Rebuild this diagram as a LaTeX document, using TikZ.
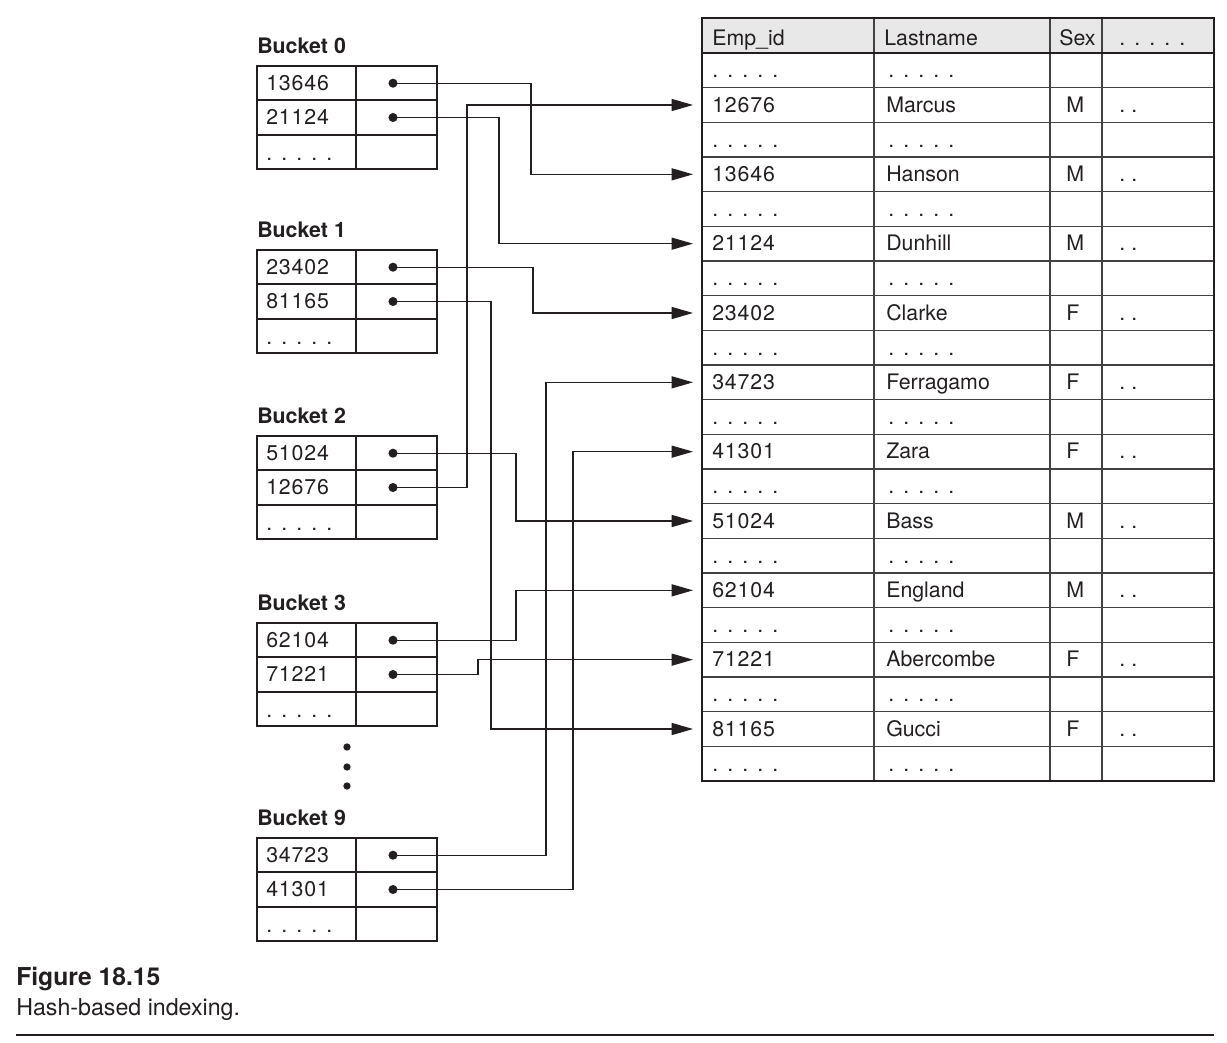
\documentclass[tikz,border=0pt]{standalone}
\usepackage{fontspec}
\setmainfont{TeX Gyre Heros}
\usetikzlibrary{arrows.meta}
\newcommand\fivedots{.\kern6.8pt.\kern6.8pt.\kern6.8pt.\kern6.8pt.}
\newcommand\twodots{.\kern4.6pt.}
\definecolor{ink}{HTML}{231F20}
\tikzset{
  txt/.style={anchor=base west, inner sep=0pt, text=ink, font=\fontsize{16}{19}\selectfont},
  num/.style={txt, font=\fontsize{16}{19}\selectfont\addfontfeature{LetterSpace=4}},
  lbl/.style={anchor=base west, inner sep=0pt, text=ink, font=\fontsize{16}{19}\selectfont\bfseries},
  ptr/.style={circle, fill=ink, inner sep=0pt, minimum size=6.8pt},
  conn/.style={draw=ink, line width=0.9pt, -{Triangle[length=16pt,width=9pt]}},
  box/.style={draw=ink, line width=1.3pt},
  grid/.style={draw=ink!85, line width=1.2pt},
}
\begin{document}
\begin{tikzpicture}[x=0.75pt,y=-0.75pt]
\useasboundingbox (0,0) rectangle (1227,1042);
% ---------- buckets ----------
\foreach \bn/\ty/\ka/\kb in {0/66/13646/21124, 1/250/23402/81165, 2/436/51024/12676, 3/623/62104/71221, 9/838/34723/41301}{
  \node[lbl] (lab\bn) at (257,\ty-13) {Bucket \bn};
  \draw[box] (257,\ty) rectangle (437,\ty+103);
  \draw[box] (356,\ty) -- (356,\ty+103);
  \draw[box] (257,\ty+34.3) -- (437,\ty+34.3);
  \draw[box] (257,\ty+68.7) -- (437,\ty+68.7);
  \node[num] (k\ka) at (266,\ty+24.3) {\ka};
  \node[num] (k\kb) at (266,\ty+58.7) {\kb};
  \node[txt] (kd\bn) at (266,\ty+94) {\fivedots};
  \node[ptr] (p\ka) at (393,\ty+17.2) {};
  \node[ptr] (p\kb) at (393,\ty+51.5) {};
}
\node[ptr, minimum size=5.5pt] (vd1) at (347,747) {};
\node[ptr, minimum size=5.5pt] (vd2) at (347,767) {};
\node[ptr, minimum size=5.5pt] (vd3) at (347,786) {};
% ---------- table ----------
\fill[gray!18] (702,18) rectangle (1214,53);
\foreach \i in {1,...,20}{
  \draw[grid] (702,53+34.667*\i) -- (1214,53+34.667*\i);
}
\draw[grid] (874,18) -- (874,780);
\draw[grid] (1050,18) -- (1050,781);
\draw[grid] (1102,18) -- (1102,781);
\draw[box] (702,53) -- (1214,53);
\draw[box] (702,18) rectangle (1214,781);
\node[txt] (hid) at (712,45) {Emp\_id};
\node[txt] (hln) at (884,45) {Lastname};
\node[txt] (hsx) at (1059,45) {Sex};
\node[txt] (hdt) at (1119,45) {\fivedots};
\foreach \i/\id/\nm/\sx in {1/12676/Marcus/M, 3/13646/Hanson/M, 5/21124/Dunhill/M, 7/23402/Clarke/F, 9/34723/Ferragamo/F, 11/41301/Zara/F, 13/51024/Bass/M, 15/62104/England/M, 17/71221/Abercombe/F, 19/81165/Gucci/F}{
  \pgfmathsetmacro\yc{53+34.667*(\i+0.5)}
  \node[num] (r\id) at (712,\yc+7) {\id};
  \node[txt] (n\id) at (886,\yc+7) {\nm};
  \node[txt] (s\id) at (1066,\yc+7) {\sx};
  \node[txt] (e\id) at (1119,\yc+7) {\twodots};
  \coordinate (t\id) at (693,\yc);
}
\foreach \i in {0,2,...,20}{
  \pgfmathsetmacro\yb{53+34.667*(\i+1)-10}
  \node[txt] (da\i) at (712,\yb) {\fivedots};
  \node[txt] (db\i) at (888,\yb) {\fivedots};
}
% ---------- connectors ----------
\draw[conn] (p13646.center) -- ++(138,0) |- (t13646);
\draw[conn] (p21124.center) -- ++(106,0) |- (t21124);
\draw[conn] (p12676.center) -- ++(74,0) |- (t12676);
\draw[conn] (p23402.center) -- ++(140,0) |- (t23402);
\draw[conn] (p81165.center) -- ++(98,0) |- (t81165);
\draw[conn] (p51024.center) -- ++(123,0) |- (t51024);
\draw[conn] (p62104.center) -- ++(123,0) |- (t62104);
\draw[conn] (p71221.center) -- ++(85,0) |- (t71221);
\draw[conn] (p34723.center) -- ++(153,0) |- (t34723);
\draw[conn] (p41301.center) -- ++(180,0) |- (t41301);
% ---------- caption ----------
\node[anchor=base west, inner sep=0pt, text=ink, font=\fontsize{18.5}{21}\selectfont\bfseries] (figno) at (16,985) {Figure 18.15};
\node[anchor=base west, inner sep=0pt, text=ink, font=\fontsize{17.4}{20}\selectfont] (figcap) at (16,1015) {Hash-based indexing.};
\draw[ink, line width=1.5pt] (16,1035) -- (1214,1035);
\end{tikzpicture}
\end{document}
